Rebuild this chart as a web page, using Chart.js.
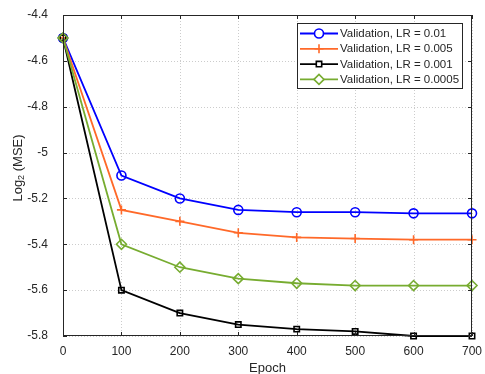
<!DOCTYPE html>
<html>
<head>
<meta charset="utf-8">
<script src="https://cdn.jsdelivr.net/npm/chart.js@4"></script>
<style>
  html, body { margin: 0; padding: 0; background: #fff; }
  #wrap { width: 485px; height: 374px; }
</style>
</head>
<body>
<div id="wrap"><canvas id="chart"></canvas></div>
<script>
const epochs = [0, 100, 200, 300, 400, 500, 600, 700];
const lr001 = [-4.5, -5.1, -5.2, -5.25, -5.26, -5.26, -5.265, -5.265];
const lr0005 = [-4.5, -5.25, -5.3, -5.35, -5.37, -5.375, -5.38, -5.38];
const lr0001 = [-4.5, -5.6, -5.7, -5.75, -5.77, -5.78, -5.8, -5.8];
const lr00005 = [-4.5, -5.4, -5.5, -5.55, -5.57, -5.58, -5.58, -5.58];
const seriesNames = ['Validation, LR = 0.01', 'Validation, LR = 0.005', 'Validation, LR = 0.001', 'Validation, LR = 0.0005'];
const xTicks = [0, 100, 200, 300, 400, 500, 600, 700];
const yTicks = [-5.8, -5.6, -5.4, -5.2, -5, -4.8, -4.6, -4.4];

const FONT = '"Liberation Sans", Arial, sans-serif';
const AXIS = '#262626';

function serie(label, ys, color, style, radius, order) {
    return {
        label: label,
        data: epochs.map((x, i) => ({ x: x, y: ys[i] })),
        borderColor: color,
        backgroundColor: 'rgba(255,255,255,0)',
        pointBorderColor: color,
        pointBackgroundColor: 'rgba(255,255,255,0)',
        pointStyle: style,
        pointRadius: radius,
        pointHoverRadius: radius,
        pointBorderWidth: 1.6,
        borderWidth: 1.8,
        tension: 0,
        clip: false,
        order: order
    };
}

const datasets = [
    serie(seriesNames[0], lr001, '#0000ff', 'circle', 4.5, 3),
    serie(seriesNames[1], lr0005, '#ff6929', 'cross', 4.5, 2),
    serie(seriesNames[2], lr0001, '#000000', 'rect', 3.8, 1),
    serie(seriesNames[3], lr00005, '#77ac30', 'rectRot', 5, 0)
];

// grille pointillée dessinée sous les courbes
const grille = {
    id: 'grille',
    beforeDatasetsDraw(chart) {
        const ctx = chart.ctx;
        const a = chart.chartArea;
        const xs = chart.scales.x, ys = chart.scales.y;
        ctx.save();
        ctx.strokeStyle = '#cccccc';
        ctx.lineWidth = 1;
        ctx.setLineDash([1, 2]);
        ctx.beginPath();
        xTicks.forEach(v => {
            const px = Math.round(xs.getPixelForValue(v)) + 0.5;
            ctx.moveTo(px, a.top); ctx.lineTo(px, a.bottom);
        });
        yTicks.forEach(v => {
            const py = Math.round(ys.getPixelForValue(v)) + 0.5;
            ctx.moveTo(a.left, py); ctx.lineTo(a.right, py);
        });
        ctx.stroke();
        ctx.restore();
    }
};

// cadre, petites graduations, légende et titre Y
const decor = {
    id: 'decor',
    afterDatasetsDraw(chart) {
        const ctx = chart.ctx;
        const a = chart.chartArea;
        const xs = chart.scales.x, ys = chart.scales.y;
        ctx.save();
        ctx.strokeStyle = AXIS;
        ctx.lineWidth = 1;
        ctx.strokeRect(a.left + 0.5, a.top + 0.5, a.right - a.left - 1, a.bottom - a.top - 1);
        ctx.beginPath();
        xTicks.forEach(v => {
            const px = Math.round(xs.getPixelForValue(v)) + 0.5;
            ctx.moveTo(px, a.bottom); ctx.lineTo(px, a.bottom - 4);
            ctx.moveTo(px, a.top); ctx.lineTo(px, a.top + 4);
        });
        yTicks.forEach(v => {
            const py = Math.round(ys.getPixelForValue(v)) + 0.5;
            ctx.moveTo(a.left, py); ctx.lineTo(a.left + 4, py);
            ctx.moveTo(a.right, py); ctx.lineTo(a.right - 4, py);
        });
        ctx.stroke();

        // légende
        const lx = 297, ly = 23, lw = 165, lh = 65;
        ctx.fillStyle = '#fff';
        ctx.fillRect(lx, ly, lw, lh);
        ctx.strokeStyle = AXIS;
        ctx.strokeRect(lx + 0.5, ly + 0.5, lw, lh);
        ctx.font = '11.5px ' + FONT;
        ctx.textBaseline = 'middle';
        ctx.textAlign = 'left';
        chart.data.datasets.forEach((ds, i) => {
            const cy = ly + 10.5 + i * 15.3;
            ctx.strokeStyle = ds.borderColor;
            ctx.lineWidth = ds.borderWidth;
            ctx.beginPath();
            ctx.moveTo(lx + 3, cy); ctx.lineTo(lx + 41, cy);
            ctx.stroke();
            ctx.lineWidth = ds.pointBorderWidth;
            ctx.fillStyle = '#fff';
            Chart.helpers.drawPoint(ctx, {
                pointStyle: ds.pointStyle,
                radius: ds.pointRadius,
                borderWidth: ds.pointBorderWidth,
                rotation: 0
            }, lx + 22, cy);
            ctx.fillStyle = AXIS;
            ctx.fillText(ds.label, lx + 43, cy + 0.5);
        });

        // titre Y avec indice
        ctx.translate(18, 168);
        ctx.rotate(-Math.PI / 2);
        ctx.fillStyle = AXIS;
        ctx.textBaseline = 'middle';
        const big = '13px ' + FONT, small = '9px ' + FONT;
        ctx.font = big;
        const w1 = ctx.measureText('Log').width;
        const w3 = ctx.measureText(' (MSE)').width;
        ctx.font = small;
        const w2 = ctx.measureText('2').width;
        let x0 = -(w1 + w2 + w3) / 2;
        ctx.font = big;
        ctx.fillText('Log', x0, 0);
        ctx.font = small;
        ctx.fillText('2', x0 + w1, 4);
        ctx.font = big;
        ctx.fillText(' (MSE)', x0 + w1 + w2, 0);
        ctx.restore();
    }
};

new Chart(document.getElementById('chart'), {
    type: 'line',
    data: { datasets: datasets },
    options: {
        responsive: true,
        maintainAspectRatio: false,
        animation: false,
        events: [],
        layout: { padding: { left: 0, right: 13, top: 15, bottom: 0 } },
        plugins: { legend: { display: false }, tooltip: { enabled: false } },
        scales: {
            x: {
                type: 'linear',
                min: 0, max: 700,
                afterBuildTicks: s => { s.ticks = xTicks.map(v => ({ value: v })); },
                afterFit: s => { s.height = 38; },
                ticks: { padding: 0, color: AXIS, font: { family: FONT, size: 12 }, maxRotation: 0 },
                grid: { display: false },
                border: { display: false },
                title: { display: true, text: 'Epoch', color: AXIS, font: { family: FONT, size: 13 }, padding: { top: 0, bottom: -2 } }
            },
            y: {
                type: 'linear',
                min: -5.8, max: -4.4,
                afterBuildTicks: s => { s.ticks = yTicks.map(v => ({ value: v })); },
                afterFit: s => { s.width = 63; },
                ticks: {
                    padding: 7, color: AXIS, font: { family: FONT, size: 12 },
                    callback: v => String(Number(v.toFixed(1)))
                },
                grid: { display: false },
                border: { display: false }
            }
        }
    },
    plugins: [grille, decor]
});
</script>
</body>
</html>
